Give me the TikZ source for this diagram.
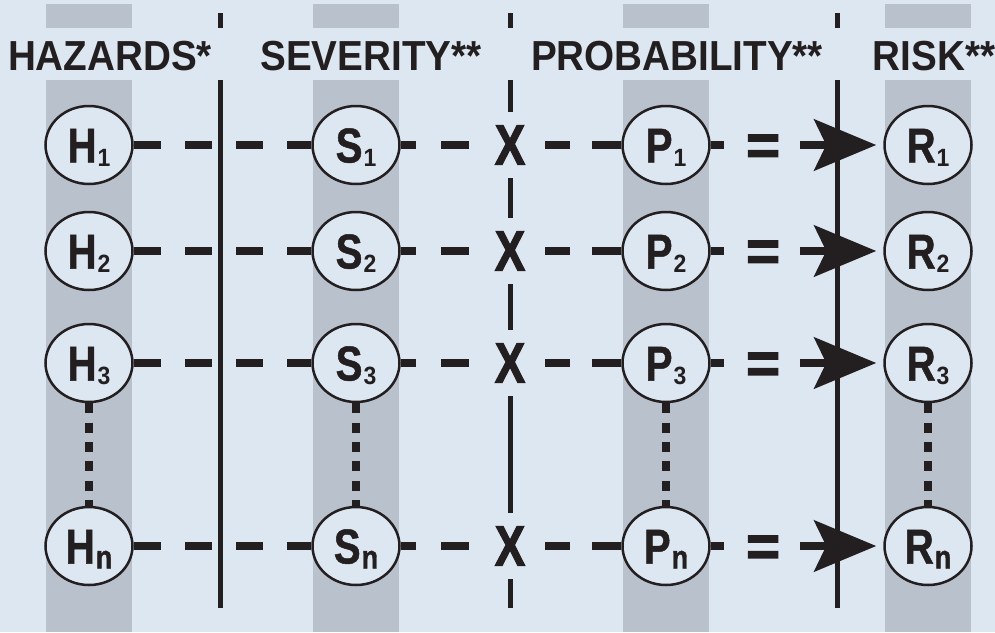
\documentclass[tikz,border=0pt]{standalone}
\usepackage{fontspec}
\setmainfont{Liberation Sans}
\newfontfamily\cf[FakeStretch=0.92]{Liberation Sans}
\newfontfamily\nf[FakeStretch=0.82,FakeBold=1]{Liberation Sans}
\newfontfamily\xf[FakeStretch=0.8,FakeBold=2]{Liberation Sans}
\newfontfamily\ef[FakeBold=2.5]{Liberation Sans}
\usetikzlibrary{arrows.meta,shapes.geometric}
\definecolor{bgc}{RGB}{221,231,242}
\definecolor{bandc}{RGB}{185,193,205}
\definecolor{inkc}{RGB}{35,31,32}
\newcommand{\mainlet}[1]{{\nf\fontsize{49}{49}\selectfont\bfseries #1}}
\newcommand{\subd}[1]{\kern1pt\raisebox{-4pt}{\cf\fontsize{25}{25}\selectfont\bfseries #1}}
\newcommand{\subn}{\kern1pt\raisebox{-5pt}{\nf\fontsize{33}{33}\selectfont\bfseries n}}
\tikzset{
 hdr/.style={font={\cf\bfseries\fontsize{42}{42}\selectfont}, anchor=base, inner sep=0pt, text=inkc},
 circ/.style={ellipse, draw=inkc, line width=2.5pt, fill=bgc, minimum width=87pt, minimum height=78pt, inner sep=0pt, text=inkc, text height=35pt, text depth=0pt},
 xnode/.style={font={\xf\bfseries\fontsize{57}{57}\selectfont}, inner sep=0pt, minimum width=30pt, minimum height=66pt, text=inkc},
 eqnode/.style={font={\ef\bfseries\fontsize{58}{58}\selectfont}, inner sep=0pt, minimum width=74pt, text=inkc, text height=40pt, text depth=0pt},
 vline/.style={draw=inkc, line width=5pt},
 hline/.style={draw=inkc, line width=8pt},
 dotline/.style={draw=inkc, line width=8pt, dash pattern=on 10pt off 9.4pt},
}
\begin{document}
\begin{tikzpicture}[x=1pt,y=-1pt]
\useasboundingbox (0,0) rectangle (995,632);
\fill[bgc] (0,0) rectangle (995,632);
\foreach \c in {89,356,666,928}{
  \fill[bandc] (\c-43,4) rectangle (\c+43,28);
  \fill[bandc] (\c-43,80) rectangle (\c+43,632);
}
% headers
\node[hdr] (hH) at (110,70) {HAZARDS*};
\node[hdr] (hS) at (371,70) {SEVERITY**};
\node[hdr] (hP) at (677,70) {PROBABILITY**};
\node[hdr] (hR) at (934,70) {RISK**};
% line end points
\coordinate (l1a) at (220,13); \coordinate (l1b) at (220,28);
\coordinate (l1c) at (220,80); \coordinate (l1d) at (220,608);
\coordinate (l2a) at (510,13); \coordinate (l2b) at (510,28);
\coordinate (l2c) at (510,80); \coordinate (l2d) at (510,608);
\coordinate (l3a) at (837,13); \coordinate (l3b) at (837,28);
\coordinate (l3c) at (837,80); \coordinate (l3d) at (837,608);
% nodes
\foreach \r/\y/\s in {1/145/\subd{1}, 2/251/\subd{2}, 3/363/\subd{3}, n/546/\subn}{
  \node[circ] (H\r) at (89,\y) {\mainlet{H}\s};
  \node[circ] (S\r) at (356,\y) {\mainlet{S}\s};
  \node[circ] (P\r) at (666,\y) {\mainlet{P}\s};
  \node[circ] (R\r) at (928,\y) {\mainlet{R}\s};
  \node[xnode] (X\r) at (510,\y) {X};
  \node[eqnode] (E\r) at (763,\y) {=};
}
% vertical lines
\draw[vline] (l1a) -- (l1b);
\draw[vline] (l1c) -- (l1d);
\draw[vline] (l2a) -- (l2b);
\draw[vline] (l2c) -- (X1);
\draw[vline] (X1) -- (X2);
\draw[vline] (X2) -- (X3);
\draw[vline] (X3) -- (Xn);
\draw[vline] (Xn) -- (l2d);
\draw[vline] (l3a) -- (l3b);
\draw[vline] (l3c) -- (l3d);
% row connectors
\foreach \r in {1,2,3,n}{
  \draw[hline, dash pattern=on 27pt off 24pt] (H\r) -- (S\r);
  \draw[hline, dash pattern=on 15pt off 25pt on 28pt off 30pt] (S\r) -- (X\r);
  \draw[hline, dash pattern=on 25pt off 22pt on 30pt off 20pt, dash phase=77pt] (X\r) -- (P\r);
  \draw[hline, dash pattern=on 13pt off 10pt] (P\r) -- (E\r);
  \draw[hline, -{Stealth[length=62pt,width=51pt,inset=12pt]}, shorten >=7pt] (E\r) -- (R\r);
}
% dotted continuation
\foreach \k in {H,S,P,R}{
  \draw[dotline] (\k3) -- (\k n);
}
\end{tikzpicture}
\end{document}
